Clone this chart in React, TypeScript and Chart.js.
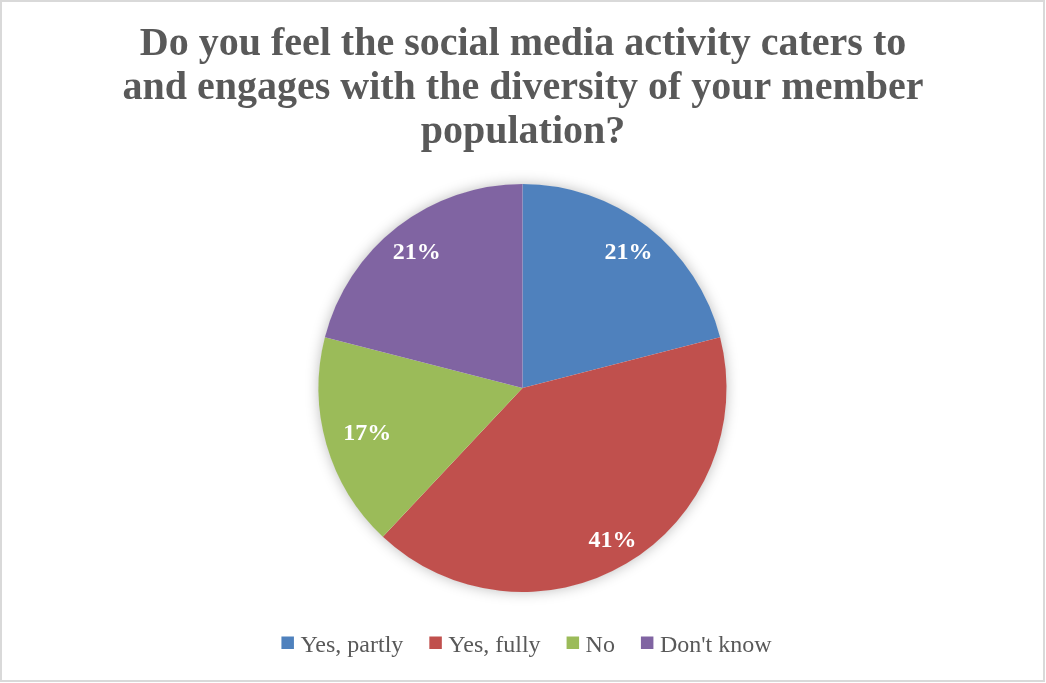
import React, { useEffect, useRef } from "react";
import { Chart, registerables } from "chart.js";

Chart.register(...registerables);

const titleLines = [
  "Do you feel the social media activity caters to",
  "and engages with the diversity of your member",
  "population?",
];
const categories = ["Yes, partly", "Yes, fully", "No", "Don't know"];
const percentValues = [21, 41, 17, 21];
const sliceColors = ["#4F81BD", "#C0504D", "#9BBB59", "#8064A2"];
const labelRadiusFactor = [0.848, 0.867, 0.793, 0.845];

const W = 1046;
const H = 683;
const TEXT_COLOR = "#595959";
const SERIF = "'Liberation Serif', 'Times New Roman', serif";

export default function App() {
  const canvasRef = useRef<HTMLCanvasElement | null>(null);

  useEffect(() => {
    document.body.style.margin = "0";
    const canvas = canvasRef.current;
    if (!canvas) return;

    const decorPlugin = {
      id: "decor",
      beforeDraw(chart: any) {
        const ctx = chart.ctx;
        ctx.save();
        ctx.fillStyle = "#ffffff";
        ctx.fillRect(0, 0, W, H);
        ctx.strokeStyle = "#d9d9d9";
        ctx.lineWidth = 2;
        ctx.strokeRect(1, 1, W - 3, H - 3);
        // title
        ctx.fillStyle = TEXT_COLOR;
        ctx.font = `bold 40px ${SERIF}`;
        ctx.textAlign = "center";
        ctx.textBaseline = "alphabetic";
        const baselines = [55, 99, 143];
        titleLines.forEach((t, i) => ctx.fillText(t, 523, baselines[i]));
        // legend
        ctx.font = `24px ${SERIF}`;
        const box = 12.5;
        const gapBoxText = 6.5;
        const gapItems = 26;
        const widths = categories.map((c) => ctx.measureText(c).width);
        const total =
          widths.reduce((a, b) => a + b, 0) +
          categories.length * (box + gapBoxText) +
          (categories.length - 1) * gapItems;
        let x = 526.5 - total / 2;
        ctx.textAlign = "left";
        categories.forEach((c, i) => {
          ctx.fillStyle = sliceColors[i];
          ctx.fillRect(x, 636.5, box, box);
          x += box + gapBoxText;
          ctx.fillStyle = TEXT_COLOR;
          ctx.fillText(c, x, 652);
          x += widths[i] + gapItems;
        });
        ctx.restore();
      },
      beforeDatasetsDraw(chart: any) {
        const meta = chart.getDatasetMeta(0);
        const arc = meta.data[0];
        if (!arc) return;
        const { x, y, outerRadius } = arc.getProps(["x", "y", "outerRadius"], true);
        const ctx = chart.ctx;
        ctx.save();
        ctx.shadowColor = "rgba(0,0,0,0.28)";
        ctx.shadowBlur = 14;
        ctx.fillStyle = "#ffffff";
        ctx.beginPath();
        ctx.arc(x, y, outerRadius - 0.5, 0, Math.PI * 2);
        ctx.fill();
        ctx.restore();
      },
      afterDatasetsDraw(chart: any) {
        const meta = chart.getDatasetMeta(0);
        const ctx = chart.ctx;
        ctx.save();
        ctx.fillStyle = "#ffffff";
        ctx.font = `bold 24px ${SERIF}`;
        ctx.textAlign = "center";
        ctx.textBaseline = "middle";
        meta.data.forEach((el: any, i: number) => {
          const p = el.getProps(["x", "y", "startAngle", "endAngle", "outerRadius"], true);
          const mid = (p.startAngle + p.endAngle) / 2;
          const r = p.outerRadius * labelRadiusFactor[i];
          ctx.fillText(
            `${percentValues[i]}%`,
            p.x + Math.cos(mid) * r,
            p.y + Math.sin(mid) * r + 1
          );
        });
        ctx.restore();
      },
    };

    const chart = new Chart(canvas, {
      type: "pie",
      data: {
        labels: categories,
        datasets: [
          {
            data: percentValues,
            backgroundColor: sliceColors,
            borderWidth: 0,
            hoverBorderWidth: 0,
            hoverOffset: 0,
          },
        ],
      },
      options: {
        responsive: false,
        animation: false,
        devicePixelRatio: 1,
        layout: { padding: { top: 184, bottom: 91, left: 318, right: 319 } },
        plugins: {
          legend: { display: false },
          title: { display: false },
          tooltip: { enabled: false },
        },
        events: [],
      },
      plugins: [decorPlugin],
    });

    return () => chart.destroy();
  }, []);

  return (
    <div style={{ width: W, height: H, margin: 0, padding: 0 }}>
      <canvas ref={canvasRef} width={W} height={H} style={{ display: "block" }} />
    </div>
  );
}
